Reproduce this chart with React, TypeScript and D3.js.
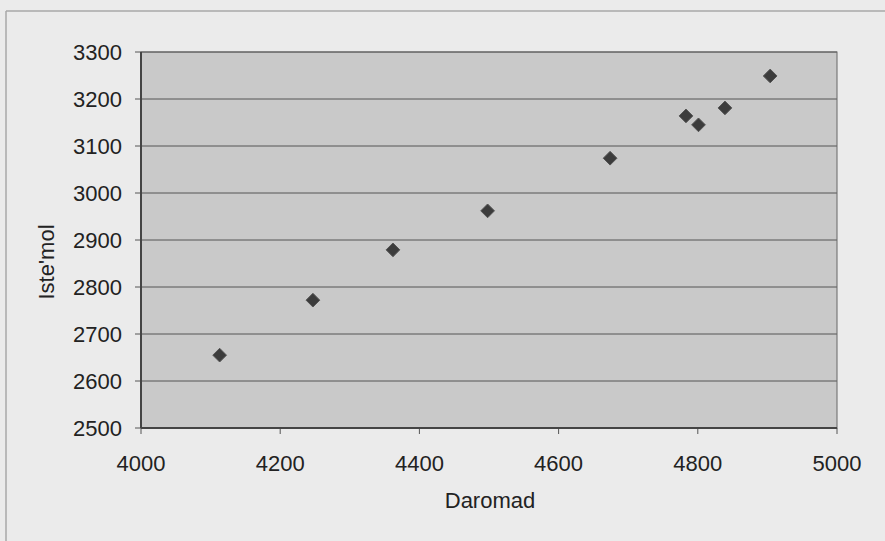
import React from "react";
import * as d3 from "d3";

const daromad = [4113, 4247, 4362, 4498, 4674, 4783, 4801, 4839, 4904];
const istemol = [2655, 2772, 2879, 2962, 3074, 3164, 3145, 3181, 3249];
const xTicks = [4000, 4200, 4400, 4600, 4800, 5000];
const yTicks = [2500, 2600, 2700, 2800, 2900, 3000, 3100, 3200, 3300];
const xTitle = "Daromad";
const yTitle = "Iste'mol";

const W = 885;
const H = 541;
const plot = { left: 141, right: 837, top: 52, bottom: 428 };

export default function App() {
  const x = d3.scaleLinear().domain([4000, 5000]).range([plot.left, plot.right]);
  const y = d3.scaleLinear().domain([2500, 3300]).range([plot.bottom, plot.top]);
  const diamond = d3.symbol().type(d3.symbolDiamond2).size(120)();
  const font = "'Liberation Sans', Arial, sans-serif";
  return (
    <svg
      width={W}
      height={H}
      style={{ position: "absolute", left: 0, top: 0, display: "block" }}
      fontFamily={font}
    >
      <rect x={0} y={0} width={W} height={H} fill="#ebebeb" />
      <line x1={6} x2={6} y1={11} y2={H} stroke="#a8a8a8" strokeWidth={1.5} />
      <line x1={6} x2={W} y1={11} y2={11} stroke="#a8a8a8" strokeWidth={1.5} />
      <rect
        x={plot.left}
        y={plot.top}
        width={plot.right - plot.left}
        height={plot.bottom - plot.top}
        fill="#c9c9c9"
      />
      {yTicks.map((t) => (
        <g key={"y" + t}>
          <line
            x1={plot.left - 6}
            x2={plot.right}
            y1={y(t)}
            y2={y(t)}
            stroke="#555"
            strokeWidth={1}
          />
          <text
            x={plot.left - 19}
            y={y(t)}
            dy="0.36em"
            textAnchor="end"
            fontSize={22}
            fill="#222"
          >
            {t}
          </text>
        </g>
      ))}
      {xTicks.map((t) => (
        <g key={"x" + t}>
          <line
            x1={x(t)}
            x2={x(t)}
            y1={plot.bottom}
            y2={plot.bottom + 6}
            stroke="#555"
            strokeWidth={1}
          />
          <text x={x(t)} y={471} textAnchor="middle" fontSize={22} fill="#222">
            {t}
          </text>
        </g>
      ))}
      <rect
        x={plot.left}
        y={plot.top}
        width={plot.right - plot.left}
        height={plot.bottom - plot.top}
        fill="none"
        stroke="#666"
        strokeWidth={1}
      />
      <line x1={plot.left} x2={plot.left} y1={plot.top} y2={plot.bottom} stroke="#444" strokeWidth={2} />
      <line x1={plot.left} x2={plot.right} y1={plot.bottom} y2={plot.bottom} stroke="#444" strokeWidth={2} />
      {daromad.map((d, i) => (
        <path
          key={"p" + i}
          d={diamond as string}
          transform={`translate(${x(d)},${y(istemol[i])})`}
          fill="#3c3c3c"
          stroke="#555"
          strokeWidth={1}
        />
      ))}
      <text x={490} y={508} textAnchor="middle" fontSize={22} fill="#222">
        {xTitle}
      </text>
      <text
        transform={`translate(54,262) rotate(-90)`}
        textAnchor="middle"
        fontSize={22}
        fill="#222"
      >
        {yTitle}
      </text>
    </svg>
  );
}
